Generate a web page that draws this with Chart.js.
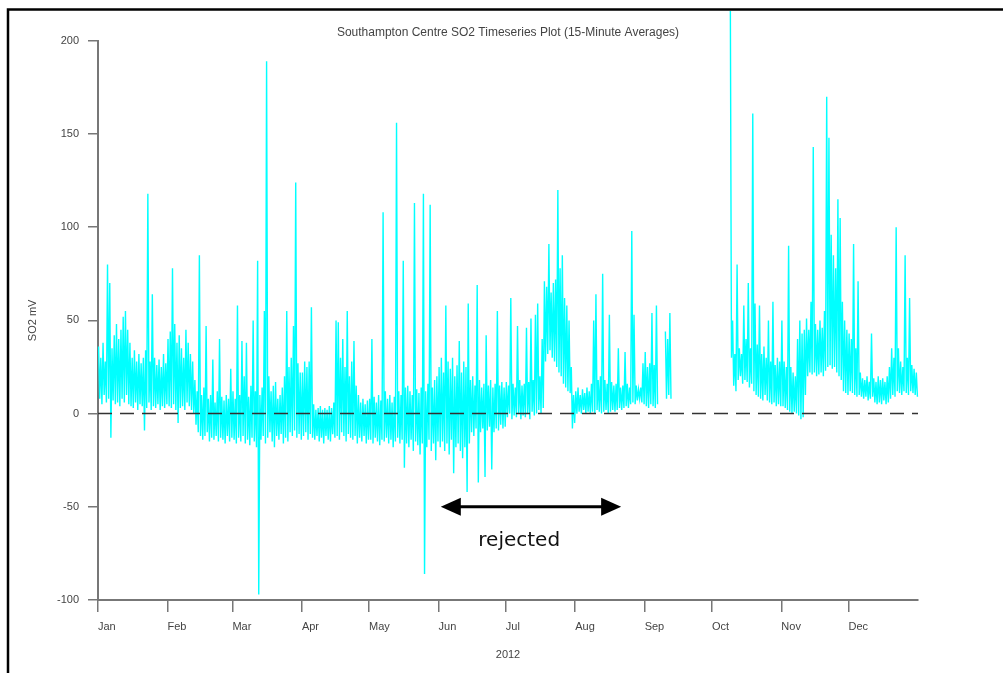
<!DOCTYPE html>
<html><head><meta charset="utf-8">
<script src="https://cdn.jsdelivr.net/npm/chart.js@4.4.1/dist/chart.umd.min.js"></script>
<style>html,body{margin:0;padding:0;background:#fff;}canvas{display:block;}</style>
</head><body>
<canvas id="c" width="1003" height="673"></canvas>
<script>
// ---- labels & ticks ----
const chartTitle = 'Southampton Centre SO2 Timeseries Plot (15-Minute Averages)';
const xTitle = '2012';
const yTitle = 'SO2 mV';
const monthLabels = ['Jan','Feb','Mar','Apr','May','Jun','Jul','Aug','Sep','Oct','Nov','Dec'];
const monthStarts = [0,31,60,91,121,152,182,213,244,274,305,335]; // day of year 2012
const yearDays = 366;
const yMin = -100, yMax = 200, yStep = 50;

// ---- SO2 values: daily high, daily low pairs per month (null = no data) ----
const jan = [36,8, 30,5, 38,10, 28,6, 80,8, 70,-13, 35,7, 42,5, 48,6, 40,4, 45,8, 52,6, 55,10, 45,5, 38,4, 30,3, 34,6, 28,2, 32,5, 27,4, 30,-9, 34,3, 118,6, 28,2, 64,4, 30,3, 26,5, 29,2, 25,4, 32,3, 27,5];
const feb = [40,4, 44,3, 78,5, 48,2, 38,-5, 42,3, 35,4, 30,2, 45,6, 38,4, 32,2, 28,0, 18,-6, 12,-10, 85,-12, 10,-14, 14,-12, 47,-10, 8,-15, 10,-13, 29,-14, 6,-12, 12,-15, 40,-13, 9,-14, 7,-16, 10,-12, 8,-15, 24,-13];
const mar = [12,-14, 8,-16, 58,-13, 10,-15, 39,-12, 20,-16, 38,-14, 9,-17, 15,-13, 50,-15, 12,-18, 82,-97, 10,-14, 14,-12, 55,-16, 189,-13, 20,-10, 12,-15, 15,-18, 17,-12, 8,-14, 10,-11, 14,-16, 20,-13, 55,-15, 25,-10, 30,-12, 47,-9, 124,-13, 27,-11, 22,-14];
const apr = [22,-12, 28,-10, 25,-14, 28,-11, 57,-13, 5,-14, 2,-12, 3,-15, 4,-13, 2,-16, 3,-12, 2,-14, 4,-15, 3,-11, 6,-13, 50,-12, 49,-14, 30,-10, 40,-12, 25,-15, 55,-11, 20,-13, 28,-14, 39,-12, 15,-16, 10,-13, 6,-15, 8,-12, 5,-16, 7,-14];
const may = [8,-14, 40,-16, 9,-13, 6,-15, 10,-17, 7,-14, 108,-15, 12,-13, 8,-16, 10,-14, 6,-18, 9,-15, 156,-13, 12,-16, 10,-14, 82,-29, 14,-16, 15,-18, 12,-14, 10,-20, 113,-15, 13,-17, 11,-22, 14,-16, 118,-86, 12,-18, 16,-14, 112,-20, 14,-16, 18,-25, 20,-15];
const jun = [25,-18, 30,-15, 22,-20, 58,-16, 28,-22, 24,-14, 30,-32, 20,-18, 26,-16, 39,-20, 22,-24, 28,-18, 25,-42, 59,-16, 18,-10, 20,-12, 15,-8, 69,-37, 18,-10, 14,-8, 16,-34, 42,-9, 15,-7, 18,-30, 14,-10, 16,-8, 55,-9, 15,-6, 17,-8, 14,-7];
const jul = [17,-2, 15,0, 62,-3, 16,-1, 14,-2, 47,0, 18,-3, 15,-1, 16,-2, 46,0, 17,-3, 51,1, 18,-1, 53,0, 59,2, 20,0, 40,3, 71,28, 68,32, 91,34, 65,30, 70,28, 72,25, 120,22, 78,20, 85,16, 62,14, 58,12, 50,11, 25,-8, 10,-5];
const aug = [12,0, 14,1, 10,0, 13,2, 11,0, 14,1, 12,0, 16,1, 50,0, 64,2, 18,1, 20,0, 75,1, 18,2, 16,0, 53,1, 17,2, 15,1, 16,2, 35,3, 14,2, 15,3, 33,4, 16,3, 14,5, 98,6, 53,5, 15,7, 13,8, 14,6, 27,5];
const sep = [33,4, 25,3, 27,5, 54,4, 26,3, 58,5, null,null, null,null, null,null, 44,8, 40,10, 54,8,
  null,null, null,null, null,null, null,null, null,null, null,null, null,null, null,null, null,null,
  null,null, null,null, null,null, null,null, null,null, null,null, null,null, null,null, null,null];
const oct = [null,null, null,null, null,null, null,null, null,null, null,null, null,null, null,null,
  216,30, 50,15, 32,12, 80,18, 35,20, 32,16, 58,18, 40,17, 70,14, 35,16, 161,12, 59,10, 37,9, 58,8, 32,7, 36,10, 30,7, 50,6, 28,5, 60,6, 26,4, 30,5, 28,4];
const nov = [50,4, 28,3, 25,2, 90,1, 25,0, 22,1, 20,0, 40,-1, 50,-3, 43,-2, 45,10, 51,20, 45,22, 60,21, 143,22, 48,20, 45,21, 50,22, 46,20, 55,23, 170,25, 148,26, 96,24, 85,25, 78,22, 115,20, 105,18, 60,12, 50,11, 45,10];
const dec = [43,12, 40,11, 91,10, 35,9, 71,10, 22,9, 19,8, 18,9, 20,7, 17,8, 43,9, 19,6, 17,5, 20,6, 18,5, 19,7, 17,5, 20,6, 25,8, 35,10, 30,9, 100,12, 35,11, 28,10, 25,12, 85,11, 30,10, 62,12, 26,11, 24,10, 22,9];
const zeroLevel = 0;

// ---- annotation ----
const rejectedFrom = 153;   // day of year
const rejectedTo = 233.5;
const rejectedLevel = -50;
const rejectedText = 'rejected';
const rejectedTextDay = 188;
const rejectedTextLevel = -68;

// ---- build series ----
const monthly = [jan,feb,mar,apr,may,jun,jul,aug,sep,oct,nov,dec];
const so2Points = [];
monthly.forEach((arr, m) => {
  arr.forEach((v, i) => {
    so2Points.push({x: monthStarts[m] + Math.floor(i / 2) + (i % 2 ? 0.75 : 0.25), y: v});
  });
});
const zeroPoints = [{x: 0, y: zeroLevel}, {x: yearDays, y: zeroLevel}];

const smallFont = {family: "'Liberation Sans', Arial, sans-serif", size: 11, weight: 'normal'};
const titleFont = {family: "'Liberation Sans', Arial, sans-serif", size: 12, weight: 'normal'};
const textColor = '#444';
const axisColor = '#777';

const decorPlugin = {
  id: 'decor',
  afterDraw(chart) {
    const ctx = chart.ctx;
    const xs = chart.scales.x, ys = chart.scales.y;
    ctx.save();
    // frame
    ctx.strokeStyle = '#000';
    ctx.lineWidth = 2.5;
    ctx.beginPath();
    ctx.moveTo(8, 673);
    ctx.lineTo(8, 9.5);
    ctx.lineTo(1003, 9.5);
    ctx.stroke();
    // arrow
    const x1 = xs.getPixelForValue(rejectedFrom);
    const x2 = xs.getPixelForValue(rejectedTo);
    const y = ys.getPixelForValue(rejectedLevel);
    const hl = 20, hw = 9;
    ctx.strokeStyle = '#000';
    ctx.fillStyle = '#000';
    ctx.lineWidth = 3;
    ctx.beginPath();
    ctx.moveTo(x1 + hl - 2, y);
    ctx.lineTo(x2 - hl + 2, y);
    ctx.stroke();
    ctx.beginPath();
    ctx.moveTo(x1, y); ctx.lineTo(x1 + hl, y - hw); ctx.lineTo(x1 + hl, y + hw); ctx.closePath(); ctx.fill();
    ctx.beginPath();
    ctx.moveTo(x2, y); ctx.lineTo(x2 - hl, y - hw); ctx.lineTo(x2 - hl, y + hw); ctx.closePath(); ctx.fill();
    // label
    ctx.font = "20px 'DejaVu Sans', Verdana, sans-serif";
    ctx.textAlign = 'center';
    ctx.textBaseline = 'middle';
    ctx.fillStyle = '#111';
    ctx.fillText(rejectedText, xs.getPixelForValue(rejectedTextDay), ys.getPixelForValue(rejectedTextLevel));
    ctx.restore();
  }
};

new Chart(document.getElementById('c'), {
  type: 'line',
  data: {
    datasets: [
      {data: zeroPoints, borderColor: '#333', borderWidth: 1.5, borderDash: [14, 8], pointRadius: 0, order: 0},
      {data: so2Points, borderColor: '#00ffff', borderWidth: 1.4, pointRadius: 0, spanGaps: false, clip: false, tension: 0, order: 1}
    ]
  },
  options: {
    responsive: false,
    animation: false,
    devicePixelRatio: 1,
    layout: {padding: {left: 22, right: 85, top: 0, bottom: 7}},
    plugins: {
      legend: {display: false},
      tooltip: {enabled: false},
      title: {display: true, text: chartTitle, fullSize: false, color: textColor, font: titleFont, padding: {top: 25.6, bottom: 0.8}}
    },
    scales: {
      x: {
        type: 'linear', min: 0, max: yearDays,
        afterBuildTicks: s => { s.ticks = monthStarts.map(v => ({value: v})); },
        afterFit: s => { s.height = 66; },
        ticks: {callback: (v, i) => monthLabels[i], align: 'start', autoSkip: false, maxRotation: 0, padding: 8, font: smallFont, color: textColor},
        grid: {drawOnChartArea: false, drawTicks: true, tickLength: 12, color: axisColor, lineWidth: 1.5},
        border: {display: true, color: axisColor, width: 2},
        title: {display: true, text: xTitle, color: textColor, font: smallFont, padding: {top: 4, bottom: 4}}
      },
      y: {
        min: yMin, max: yMax,
        afterFit: s => { s.width = 76; },
        ticks: {stepSize: yStep, padding: 9, font: smallFont, color: textColor},
        grid: {drawOnChartArea: false, drawTicks: true, tickLength: 10, color: axisColor, lineWidth: 1.5},
        border: {display: true, color: axisColor, width: 2},
        title: {display: true, text: yTitle, color: textColor, font: smallFont, padding: {top: 4, bottom: 4}}
      }
    }
  },
  plugins: [decorPlugin]
});
</script>
</body></html>
